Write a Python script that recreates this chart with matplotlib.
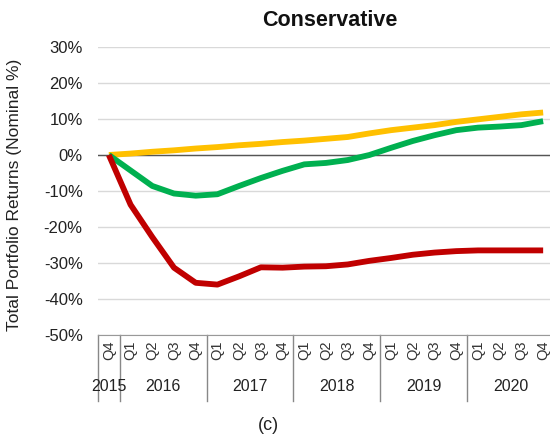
import matplotlib.pyplot as plt
import matplotlib.transforms as mtransforms

plt.rcParams["font.family"] = ["Liberation Sans", "DejaVu Sans"]

# quarterly points: 2015 Q4, then 2016..2020 Q1-Q4
quarters = ["Q4"] + ["Q1", "Q2", "Q3", "Q4"] * 5
years = ["2015", "2016", "2017", "2018", "2019", "2020"]
year_spans = [(0, 0), (1, 4), (5, 8), (9, 12), (13, 16), (17, 20)]

yellow_vals = [0, 0.4, 0.9, 1.3, 1.8, 2.2, 2.7, 3.1, 3.6, 4.0, 4.5,
               5.0, 6.0, 6.9, 7.6, 8.3, 9.2, 9.9, 10.6, 11.3, 11.8]
green_vals = [0, -4.3, -8.6, -10.7, -11.3, -10.9, -8.6, -6.4, -4.4, -2.6, -2.2,
              -1.4, 0.0, 2.0, 3.9, 5.5, 6.9, 7.6, 7.9, 8.3, 9.4]
red_vals = [0, -13.8, -22.8, -31.3, -35.5, -36.0, -33.7, -31.2, -31.3, -31.0, -30.9,
            -30.4, -29.4, -28.6, -27.7, -27.1, -26.7, -26.5, -26.5, -26.5, -26.5]

fig = plt.figure(figsize=(5.5, 4.41), dpi=100)
ax = fig.add_axes([98 / 550, 1 - 335 / 441, (554 - 98) / 550, (335 - 47) / 441])

x = list(range(len(quarters)))
ax.plot(x, yellow_vals, color="#FFC000", lw=4.2, solid_capstyle="butt", zorder=3)
ax.plot(x, green_vals, color="#00B050", lw=4.2, solid_capstyle="butt", zorder=4)
ax.plot(x, red_vals, color="#C00000", lw=4.2, solid_capstyle="butt", zorder=5)

ax.set_xlim(-0.5, 20.5)
ax.set_ylim(-50, 30)
ax.set_yticks(range(-50, 31, 10))
ax.set_yticklabels([f"{v}%" for v in range(-50, 31, 10)], fontsize=12, color="#222222")
ax.grid(True, axis="y", color="#D9D9D9", lw=1)
ax.axhline(0, color="#555555", lw=1, zorder=2)
ax.set_axisbelow(True)

for side in ["left", "right", "top"]:
    ax.spines[side].set_visible(False)
ax.spines["bottom"].set_color("#999999")
ax.tick_params(axis="y", length=0, pad=11)
ax.tick_params(axis="x", length=0, pad=4)

ax.set_xticks(x)
ax.set_xticklabels(quarters, rotation=90, fontsize=10.5, color="#333333")

trans = mtransforms.blended_transform_factory(ax.transData, ax.transAxes)
for (a, b), yr in zip(year_spans, years):
    ax.text((a + b) / 2, -0.18, yr, transform=trans, ha="center", va="center",
            fontsize=11.5, color="#222222")
seps = [-0.5] + [b + 0.5 for a, b in year_spans]
for s in seps:
    ax.plot([s, s], [0, -0.23], transform=trans, color="#888888", lw=1, clip_on=False)

fig.text(330 / 550, 1 - 20 / 441, "Conservative", ha="center", va="center",
         fontsize=15.5, fontweight="bold", color="#111111")
fig.text(15 / 550, 1 - 195 / 441, "Total Portfolio Returns (Nominal %)", rotation=90,
         ha="center", va="center", fontsize=12.5, color="#222222")
fig.text(268 / 550, 1 - 425 / 441, "(c)", ha="center", va="center", fontsize=13, color="#222222")

fig.savefig("out.png", dpi=100)
